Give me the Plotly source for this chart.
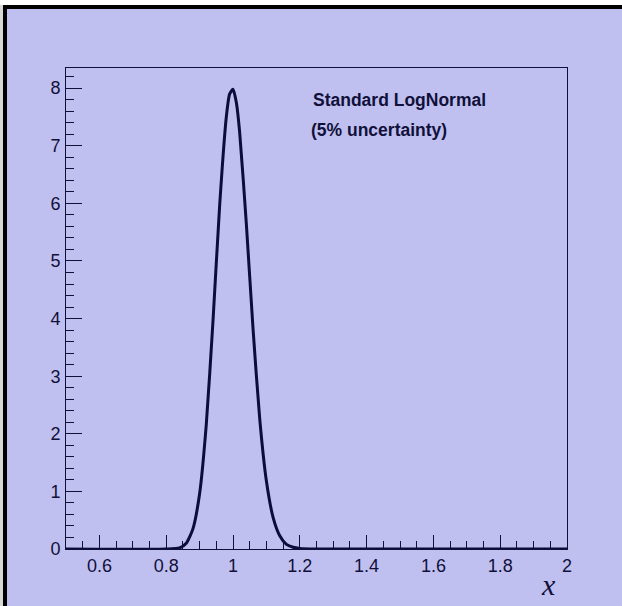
import plotly.graph_objects as go

# Values (estimated)
x_vals = [0.50, 0.80, 0.84, 0.86, 0.88, 0.90, 0.92, 0.94, 0.96, 0.98, 0.99, 1.00,
          1.01, 1.02, 1.04, 1.06, 1.08, 1.10, 1.12, 1.14, 1.16, 1.18, 1.20, 1.25, 2.00]
y_vals = [0.0, 0.0, 0.02, 0.10, 0.35, 0.96, 2.16, 3.95, 5.96, 7.50, 7.90, 7.98,
          7.75, 7.23, 5.64, 3.82, 2.26, 1.18, 0.55, 0.23, 0.08, 0.03, 0.01, 0.0, 0.0]
x_ticks = [0.6, 0.8, 1.0, 1.2, 1.4, 1.6, 1.8, 2.0]
x_tick_text = ["0.6", "0.8", "1", "1.2", "1.4", "1.6", "1.8", "2"]
y_ticks = [0, 1, 2, 3, 4, 5, 6, 7, 8]
y_tick_text = ["0", "1", "2", "3", "4", "5", "6", "7", "8"]

BG = "rgb(192,192,240)"
INK = "#10103a"
CURVE = "#0c0c3a"

W, H = 622, 606
L, R, T, B = 66, 55, 68, 57
PW, PH = W - L - R, H - T - B


def px(xp):
    return (xp - L) / PW


def py(yp):
    return (H - B - yp) / PH


fig = go.Figure()
fig.add_trace(go.Scatter(x=x_vals, y=y_vals, mode="lines",
                         line=dict(color=CURVE, width=3, shape="spline", smoothing=0.6),
                         hoverinfo="skip", showlegend=False))

axis_font = dict(family="Liberation Sans, Arial, sans-serif", size=18, color=INK)

fig.update_layout(
    width=W, height=H,
    margin=dict(l=L, r=R, t=T, b=B, pad=0),
    paper_bgcolor=BG, plot_bgcolor=BG,
    showlegend=False,
    xaxis=dict(range=[0.5, 2.0], tickmode="array", tickvals=x_ticks, ticktext=x_tick_text,
               ticks="inside", ticklen=14, tickwidth=1, tickcolor=INK,
               showline=True, linecolor=INK, linewidth=1, mirror=True,
               showgrid=False, zeroline=False, tickfont=axis_font, ticklabelstandoff=0,
               minor=dict(tickmode="linear", tick0=0.5, dtick=0.05, ticks="inside",
                          ticklen=8, tickwidth=1, tickcolor=INK, showgrid=False)),
    yaxis=dict(range=[0, 8.35], tickmode="array", tickvals=y_ticks, ticktext=y_tick_text,
               ticks="inside", ticklen=16, tickwidth=1, tickcolor=INK,
               showline=True, linecolor=INK, linewidth=1, mirror=True,
               showgrid=False, zeroline=False, tickfont=axis_font, ticklabelstandoff=1,
               minor=dict(tickmode="linear", tick0=0, dtick=0.2, ticks="inside",
                          ticklen=8, tickwidth=1, tickcolor=INK, showgrid=False)),
)

# Window edge: light strip at left, white strip at top, black bevel on top/left
shapes = [
    dict(type="rect", xref="paper", yref="paper", x0=px(0), x1=px(3), y0=py(H), y1=py(0),
         fillcolor="#d8d8d8", line=dict(width=0), layer="above"),
    dict(type="rect", xref="paper", yref="paper", x0=px(0), x1=px(W), y0=py(5), y1=py(0),
         fillcolor="white", line=dict(width=0), layer="above"),
    dict(type="rect", xref="paper", yref="paper", x0=px(3), x1=px(7), y0=py(H), y1=py(5),
         fillcolor="black", line=dict(width=0), layer="above"),
    dict(type="rect", xref="paper", yref="paper", x0=px(3), x1=px(W), y0=py(9), y1=py(5),
         fillcolor="black", line=dict(width=0), layer="above"),
]
fig.update_layout(shapes=shapes)

title_font = dict(family="Liberation Sans, Arial, sans-serif", size=17.5, color=INK)
fig.add_annotation(x=px(311), y=py(100), xref="paper", yref="paper",
                   xanchor="left", yanchor="middle", showarrow=False,
                   text="<b>Standard LogNormal</b>", font=title_font)
fig.add_annotation(x=px(309), y=py(130), xref="paper", yref="paper",
                   xanchor="left", yanchor="middle", showarrow=False,
                   text="<b>(5% uncertainty)</b>", font=title_font)
fig.add_annotation(x=px(548), y=py(584), xref="paper", yref="paper",
                   xanchor="center", yanchor="middle", showarrow=False,
                   text="<i>x</i>",
                   font=dict(family="Liberation Serif, Times New Roman, serif", size=30, color=INK))

fig.write_html("out.html")
